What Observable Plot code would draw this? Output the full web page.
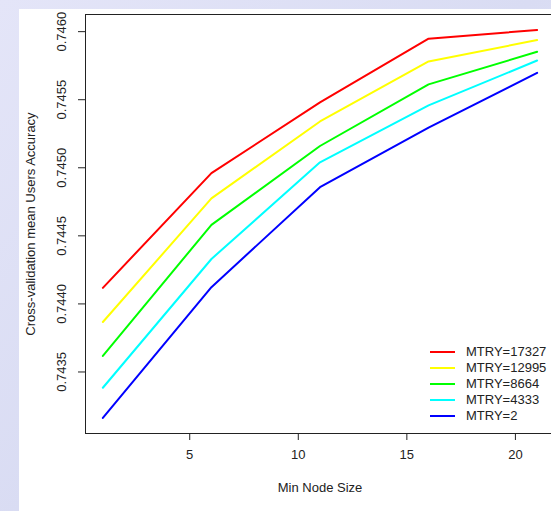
<!DOCTYPE html>
<html>
<head>
<meta charset="utf-8">
<script src="https://cdn.jsdelivr.net/npm/d3@7"></script>
<script src="https://cdn.jsdelivr.net/npm/@observablehq/plot@0.6"></script>
<style>
  html, body { margin: 0; padding: 0; width: 551px; height: 511px; overflow: hidden; }
  body { background: linear-gradient(135deg, #e4e5f8 0%, #d9dcf3 50%, #e6e8f8 100%); position: relative; font-family: "Liberation Sans", Arial, sans-serif; }
  #paper { position: absolute; left: 19px; top: 9px; width: 532px; height: 502px; background: #fff; }
  #chart { position: absolute; left: 0; top: 0; width: 551px; height: 511px; overflow: hidden; }
  #chart svg { max-width: none !important; width: 551px !important; height: 511px !important; }
  #legend { position: absolute; left: 430px; top: 344px; font-size: 13px; color: #222; }
  #legend .row { height: 15.9px; display: flex; align-items: center; white-space: nowrap; }
  #legend svg { margin-right: 11px; }
</style>
</head>
<body>
<div id="paper"></div>
<div id="chart"></div>
<div id="legend"></div>
<script>
const nodeSizes = [1, 6, 11, 16, 21];
const seriesNames = ["MTRY=17327", "MTRY=12995", "MTRY=8664", "MTRY=4333", "MTRY=2"];
const seriesColors = ["#ff0000", "#ffff00", "#00ff00", "#00ffff", "#0000ff"];
const mtry17327 = [0.744118, 0.744961, 0.745480, 0.745948, 0.746012];
const mtry12995 = [0.743867, 0.744775, 0.745340, 0.745781, 0.745938];
const mtry8664  = [0.743618, 0.744581, 0.745160, 0.745613, 0.745852];
const mtry4333  = [0.743384, 0.744330, 0.745040, 0.745458, 0.745788];
const mtry2     = [0.743162, 0.744123, 0.744857, 0.745295, 0.745697];
const xTicks = [5, 10, 15, 20];
const yTicks = [0.7435, 0.7440, 0.7445, 0.7450, 0.7455, 0.7460];

const allSeries = [mtry17327, mtry12995, mtry8664, mtry4333, mtry2];
const rows = [];
allSeries.forEach((vals, i) => vals.forEach((v, j) => rows.push({series: seriesNames[i], x: nodeSizes[j], y: v})));

// R-style 4% axis padding
const pad = ([a, b]) => { const r = (b - a) * 0.04; return [a - r, b + r]; };
const xDom = pad(d3.extent(nodeSizes));
const yDom = pad(d3.extent(rows, d => d.y));

const ink = "#222";
const plot = Plot.plot({
  width: 551,
  height: 511,
  marginLeft: 85,
  marginTop: 14,
  marginBottom: 78,
  marginRight: -3,
  style: {fontFamily: "'Liberation Sans', Arial, sans-serif", fontSize: "13px", color: ink, background: "transparent", overflow: "hidden"},
  x: {domain: xDom},
  y: {domain: yDom},
  color: {domain: seriesNames, range: seriesColors},
  marks: [
    Plot.line(rows, {x: "x", y: "y", z: "series", stroke: "series", strokeWidth: 2, curve: "linear"}),
    Plot.ruleY([yDom[1], yDom[0]], {stroke: ink, strokeWidth: 1}),
    Plot.ruleX([xDom[0]], {stroke: ink, strokeWidth: 1}),
    Plot.axisX({ticks: xTicks, tickSize: 7, tickFormat: () => "", label: null, stroke: ink}),
    Plot.axisY({ticks: yTicks, tickSize: 7, tickFormat: () => "", label: null, stroke: ink}),
    Plot.text(xTicks, {x: d => d, frameAnchor: "bottom", dy: 25, text: d => String(d), fill: ink, fontSize: 13}),
    Plot.text(yTicks, {y: d => d, frameAnchor: "left", dx: -24, rotate: -90, text: d => d.toFixed(4), fill: ink, fontSize: 13, textAnchor: "middle"}),
    Plot.text(["Min Node Size"], {frameAnchor: "bottom", dy: 58, text: d => d, fill: ink, fontSize: 13}),
    Plot.text(["Cross-validation mean Users Accuracy"], {frameAnchor: "left", dx: -55, rotate: -90, text: d => d, fill: ink, fontSize: 13, textAnchor: "middle"})
  ]
});
document.getElementById("chart").appendChild(plot);

const legend = document.getElementById("legend");
seriesNames.forEach((name, i) => {
  const row = document.createElement("div");
  row.className = "row";
  row.innerHTML = `<svg width="25" height="4"><line x1="0" x2="25" y1="2" y2="2" stroke="${seriesColors[i]}" stroke-width="2"/></svg><span>${name}</span>`;
  legend.appendChild(row);
});
</script>
</body>
</html>
